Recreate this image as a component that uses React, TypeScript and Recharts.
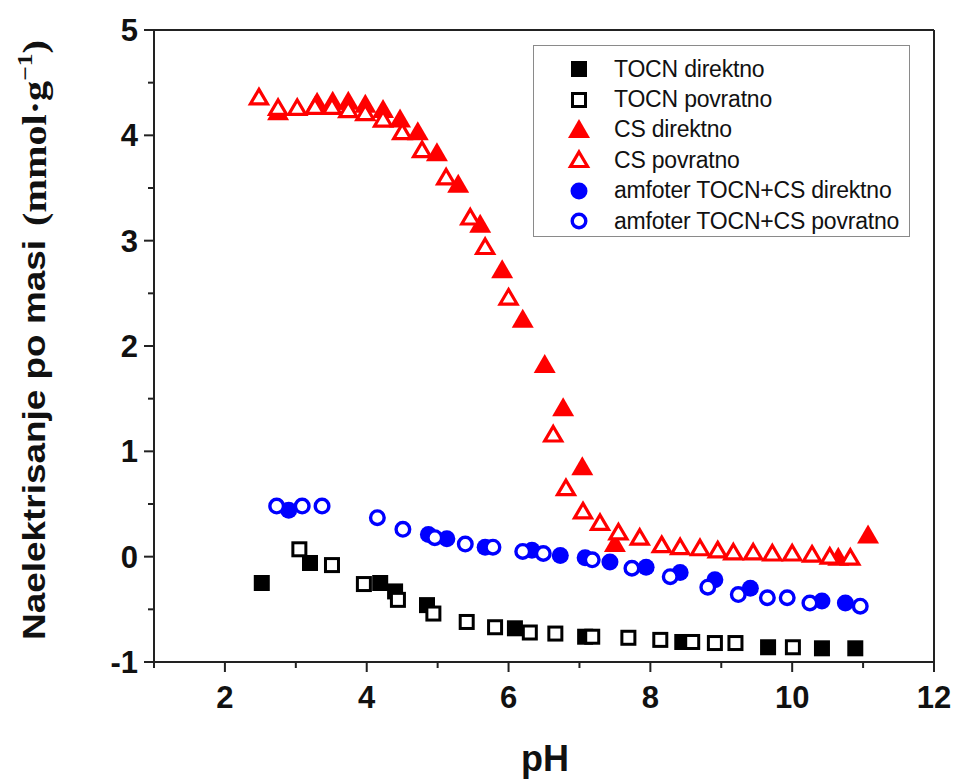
import React from "react";
import { ScatterChart, Scatter, XAxis, YAxis, ReferenceLine } from "recharts";

// pH values and charge (mmol/g)
const tocnDirPH = [2.52, 3.2, 4.19, 4.4, 4.85, 6.09, 7.08, 8.45, 9.66, 10.42, 10.89];
const tocnDirQ = [-0.25, -0.06, -0.25, -0.33, -0.46, -0.68, -0.76, -0.81, -0.86, -0.87, -0.87];

const tocnPovPH = [3.05, 3.51, 3.96, 4.44, 4.94, 5.41, 5.81, 6.3, 6.66, 7.18, 7.69, 8.14, 8.59, 8.91, 9.2, 10.01];
const tocnPovQ = [0.07, -0.08, -0.26, -0.41, -0.54, -0.62, -0.67, -0.72, -0.73, -0.76, -0.77, -0.79, -0.81, -0.82, -0.82, -0.86];

const csDirPH = [2.75, 3.3, 3.52, 3.74, 3.98, 4.23, 4.47, 4.72, 4.99, 5.29, 5.6, 5.91, 6.2, 6.51, 6.77, 7.04, 7.5, 10.65, 11.07];
const csDirQ = [4.22, 4.31, 4.32, 4.32, 4.29, 4.24, 4.15, 4.03, 3.83, 3.53, 3.15, 2.72, 2.25, 1.82, 1.41, 0.85, 0.12, -0.01, 0.2];

const csPovPH = [2.48, 2.75, 3.02, 3.27, 3.51, 3.74, 3.98, 4.23, 4.5, 4.78, 5.12, 5.46, 5.67, 6.0, 6.63, 6.81, 7.05, 7.29, 7.55, 7.85, 8.16, 8.42, 8.7, 8.95, 9.17, 9.45, 9.72, 10.0, 10.28, 10.53, 10.82];
const csPovQ = [4.36, 4.26, 4.26, 4.27, 4.27, 4.24, 4.21, 4.15, 4.03, 3.86, 3.6, 3.22, 2.94, 2.46, 1.16, 0.65, 0.43, 0.32, 0.23, 0.18, 0.11, 0.09, 0.08, 0.06, 0.04, 0.04, 0.03, 0.03, 0.02, 0.0, -0.01];

const amfDirPH = [2.9, 4.87, 5.13, 5.67, 6.33, 6.73, 7.08, 7.43, 7.94, 8.42, 8.91, 9.41, 10.42, 10.75];
const amfDirQ = [0.44, 0.21, 0.17, 0.09, 0.06, 0.01, -0.01, -0.05, -0.1, -0.15, -0.22, -0.3, -0.42, -0.44];

const amfPovPH = [2.73, 3.09, 3.37, 4.15, 4.51, 4.96, 5.39, 5.78, 6.2, 6.49, 7.18, 7.74, 8.28, 8.81, 9.24, 9.65, 9.93, 10.25, 10.96];
const amfPovQ = [0.48, 0.48, 0.48, 0.37, 0.26, 0.18, 0.12, 0.09, 0.05, 0.03, -0.03, -0.11, -0.19, -0.29, -0.36, -0.39, -0.39, -0.44, -0.47];

const xTicks = [1, 2, 3, 4, 5, 6, 7, 8, 9, 10, 11, 12];
const yTicks = [-1, -0.5, 0, 0.5, 1, 1.5, 2, 2.5, 3, 3.5, 4, 4.5, 5];

const toPoints = (xs: number[], ys: number[]) => xs.map((x, i) => ({ x, y: ys[i] }));

const RED = "#ff0000";
const BLUE = "#0000ff";
const BLACK = "#000000";
const AXIS = "#222";

type Kind = "square" | "triangle" | "circle";

function Marker({ kind, filled, color, cx, cy }: { kind: Kind; filled: boolean; color: string; cx: number; cy: number }) {
  if (kind === "square") {
    return filled ? (
      <rect x={cx - 8} y={cy - 8} width={16} height={16} fill={color} />
    ) : (
      <rect x={cx - 6.5} y={cy - 6.5} width={13} height={13} fill="#fff" stroke={color} strokeWidth={3} />
    );
  }
  if (kind === "triangle") {
    return filled ? (
      <polygon points={`${cx},${cy - 11} ${cx + 11},${cy + 8} ${cx - 11},${cy + 8}`} fill={color} />
    ) : (
      <polygon
        points={`${cx},${cy - 8} ${cx + 8.5},${cy + 6.5} ${cx - 8.5},${cy + 6.5}`}
        fill="#fff"
        stroke={color}
        strokeWidth={3.2}
        strokeLinejoin="miter"
      />
    );
  }
  return filled ? (
    <circle cx={cx} cy={cy} r={8.5} fill={color} />
  ) : (
    <circle cx={cx} cy={cy} r={6.8} fill="#fff" stroke={color} strokeWidth={3.4} />
  );
}

const series = [
  { name: "TOCN direktno", data: toPoints(tocnDirPH, tocnDirQ), kind: "square" as Kind, filled: true, color: BLACK },
  { name: "TOCN povratno", data: toPoints(tocnPovPH, tocnPovQ), kind: "square" as Kind, filled: false, color: BLACK },
  { name: "CS direktno", data: toPoints(csDirPH, csDirQ), kind: "triangle" as Kind, filled: true, color: RED },
  { name: "CS povratno", data: toPoints(csPovPH, csPovQ), kind: "triangle" as Kind, filled: false, color: RED },
  { name: "amfoter TOCN+CS direktno", data: toPoints(amfDirPH, amfDirQ), kind: "circle" as Kind, filled: true, color: BLUE },
  { name: "amfoter TOCN+CS povratno", data: toPoints(amfPovPH, amfPovQ), kind: "circle" as Kind, filled: false, color: BLUE },
];

const tickFont = "'Liberation Sans', Arial, sans-serif";

function XTick(props: any) {
  const { x, y, payload } = props;
  const v = payload.value;
  const major = v % 2 === 0;
  return (
    <g>
      <line x1={x} x2={x} y1={y} y2={y + (major ? 10 : 6)} stroke={AXIS} strokeWidth={2} />
      {major && (
        <text x={x} y={y + 46} textAnchor="middle" fontSize={31} fontWeight="bold" fontFamily={tickFont} fill="#111">
          {v}
        </text>
      )}
    </g>
  );
}

function YTick(props: any) {
  const { x, y, payload } = props;
  const v = payload.value;
  const major = Number.isInteger(v);
  return (
    <g>
      <line x1={x} x2={x - (major ? 10 : 6)} y1={y} y2={y} stroke={AXIS} strokeWidth={2} />
      {major && (
        <text x={x - 16} y={y + 11} textAnchor="end" fontSize={31} fontWeight="bold" fontFamily={tickFont} fill="#111">
          {v}
        </text>
      )}
    </g>
  );
}

function LegendBox() {
  return (
    <div
      style={{
        position: "absolute",
        left: 533,
        top: 45,
        width: 377,
        height: 192,
        border: "1.5px solid #8a8a8a",
        boxSizing: "border-box",
        background: "#fff",
        paddingTop: 8,
        fontFamily: tickFont,
        fontSize: 23,
        color: "#111",
      }}
    >
      {series.map((s) => (
        <div key={s.name} style={{ display: "flex", alignItems: "center", height: 30.4 }}>
          <svg width={80} height={30} style={{ flex: "none" }}>
            <Marker kind={s.kind} filled={s.filled} color={s.color} cx={45} cy={15} />
          </svg>
          <span style={{ whiteSpace: "nowrap", letterSpacing: -0.2 }}>{s.name}</span>
        </div>
      ))}
    </div>
  );
}

export default function App() {
  return (
    <div style={{ position: "absolute", left: 0, top: 0, width: 956, height: 783, background: "#fff" }}>
      <ScatterChart width={956} height={783} margin={{ top: 30, right: 22, left: 0, bottom: 0 }}>
        <XAxis
          type="number"
          dataKey="x"
          domain={[1, 12]}
          ticks={xTicks}
          interval={0}
          tickSize={0}
          tickMargin={0}
          tickLine={false}
          tick={<XTick />}
          height={121}
          axisLine={{ stroke: AXIS, strokeWidth: 2 }}
          allowDataOverflow
        />
        <YAxis
          type="number"
          dataKey="y"
          domain={[-1, 5]}
          ticks={yTicks}
          interval={0}
          tickSize={0}
          tickMargin={0}
          tickLine={false}
          tick={<YTick />}
          width={154}
          axisLine={{ stroke: AXIS, strokeWidth: 2 }}
          allowDataOverflow
        />
        <ReferenceLine y={5} stroke={AXIS} strokeWidth={2} />
        <ReferenceLine x={12} stroke={AXIS} strokeWidth={2} />
        {series.map((s) => (
          <Scatter
            key={s.name}
            name={s.name}
            data={s.data}
            isAnimationActive={false}
            shape={(p: any) => <Marker kind={s.kind} filled={s.filled} color={s.color} cx={p.cx} cy={p.cy} />}
          />
        ))}
        <text
          transform="translate(45, 640) rotate(-90)"
          x={0}
          y={0}
          fontFamily={tickFont}
          fontWeight="bold"
          fontSize={32}
          fill="#111"
          textLength={400}
          lengthAdjust="spacingAndGlyphs"
        >
          Naelektrisanje po masi
        </text>
        <text
          transform="translate(46, 226) rotate(-90)"
          x={0}
          y={0}
          fontFamily="'Liberation Serif', 'Times New Roman', serif"
          fontWeight="bold"
          fontSize={33}
          fill="#111"
          textLength={186}
          lengthAdjust="spacingAndGlyphs"
        >
          (mmol·g
          <tspan fontSize={21} dy={-14}>
            −1
          </tspan>
          <tspan dy={14}>)</tspan>
        </text>
        <text x={545} y={771} textAnchor="middle" fontFamily={tickFont} fontWeight="bold" fontSize={36} fill="#111">
          pH
        </text>
      </ScatterChart>
      <LegendBox />
    </div>
  );
}
